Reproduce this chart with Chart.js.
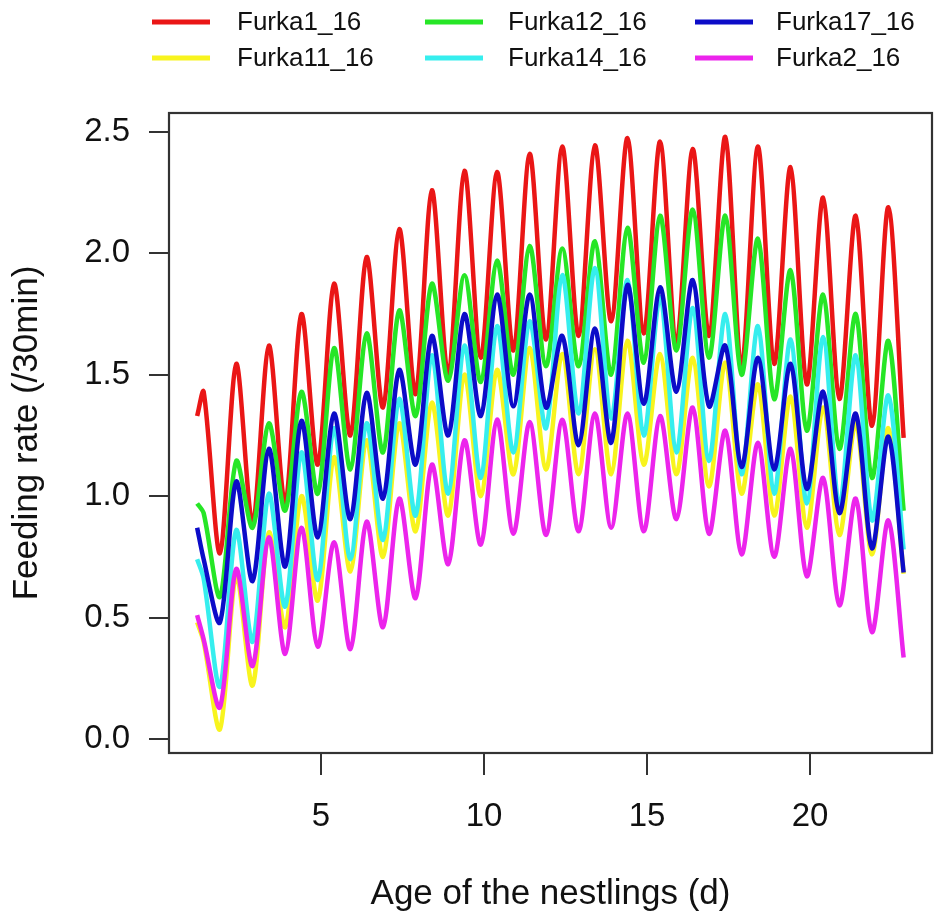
<!DOCTYPE html>
<html><head><meta charset="utf-8">
<script src="https://cdn.jsdelivr.net/npm/chart.js@4.4.1/dist/chart.umd.min.js"></script>
<style>html,body{margin:0;padding:0;background:#fff;} canvas{display:block;}</style>
</head><body>
<canvas id="c" width="946" height="917"></canvas>
<script>
// Age (d): start, then alternating daily peak / trough positions, end
const days = [1.2, 1.4, 1.9, 2.4, 2.9, 3.4, 3.9, 4.4, 4.9, 5.4, 5.9, 6.4, 6.9, 7.4, 7.9, 8.4, 8.9, 9.4, 9.9, 10.4, 10.9, 11.4, 11.9, 12.4, 12.9, 13.4, 13.9, 14.4, 14.9, 15.4, 15.9, 16.4, 16.9, 17.4, 17.9, 18.4, 18.9, 19.4, 19.9, 20.4, 20.9, 21.4, 21.9, 22.4, 22.87];

const furka1_16 = [1.33, 1.43, 0.765, 1.545, 0.89, 1.62, 0.97, 1.75, 1.13, 1.875, 1.25, 1.985, 1.365, 2.10, 1.42, 2.26, 1.50, 2.34, 1.57, 2.335, 1.60, 2.41, 1.645, 2.44, 1.66, 2.445, 1.72, 2.475, 1.67, 2.46, 1.63, 2.43, 1.66, 2.48, 1.535, 2.44, 1.545, 2.355, 1.46, 2.23, 1.40, 2.155, 1.29, 2.19, 1.24];
const furka11_16 = [0.48, 0.40, 0.04, 0.675, 0.22, 0.85, 0.46, 1.00, 0.57, 1.16, 0.69, 1.23, 0.75, 1.30, 0.855, 1.385, 0.92, 1.50, 1.0, 1.52, 1.09, 1.61, 1.11, 1.585, 1.09, 1.605, 1.09, 1.64, 1.13, 1.585, 1.09, 1.57, 1.04, 1.55, 1.01, 1.46, 0.92, 1.41, 0.87, 1.365, 0.84, 1.30, 0.76, 1.28, 0.68];
const furka12_16 = [0.97, 0.93, 0.585, 1.145, 0.87, 1.30, 0.94, 1.43, 1.01, 1.61, 1.11, 1.67, 1.18, 1.765, 1.33, 1.875, 1.475, 1.91, 1.47, 1.97, 1.50, 2.03, 1.535, 2.02, 1.535, 2.05, 1.50, 2.105, 1.55, 2.155, 1.60, 2.18, 1.57, 2.155, 1.50, 2.06, 1.40, 1.93, 1.27, 1.83, 1.195, 1.75, 1.075, 1.64, 0.94];
const furka14_16 = [0.74, 0.66, 0.215, 0.86, 0.40, 1.01, 0.545, 1.18, 0.655, 1.28, 0.74, 1.30, 0.82, 1.40, 0.92, 1.58, 1.01, 1.62, 1.075, 1.70, 1.18, 1.72, 1.28, 1.91, 1.34, 1.94, 1.32, 1.89, 1.25, 1.82, 1.18, 1.775, 1.145, 1.75, 1.09, 1.70, 1.01, 1.645, 0.97, 1.655, 0.96, 1.58, 0.90, 1.415, 0.78];
const furka17_16 = [0.87, 0.74, 0.48, 1.06, 0.65, 1.195, 0.71, 1.31, 0.83, 1.34, 0.905, 1.425, 0.99, 1.52, 1.13, 1.66, 1.25, 1.75, 1.33, 1.83, 1.37, 1.83, 1.365, 1.66, 1.21, 1.69, 1.22, 1.87, 1.38, 1.86, 1.43, 1.89, 1.37, 1.62, 1.12, 1.57, 1.11, 1.545, 1.03, 1.43, 0.93, 1.34, 0.785, 1.245, 0.685];
const furka2_16 = [0.51, 0.41, 0.13, 0.70, 0.30, 0.83, 0.35, 0.87, 0.38, 0.81, 0.37, 0.895, 0.46, 0.99, 0.58, 1.13, 0.72, 1.23, 0.80, 1.315, 0.845, 1.305, 0.84, 1.315, 0.855, 1.34, 0.87, 1.34, 0.855, 1.33, 0.905, 1.365, 0.845, 1.27, 0.76, 1.22, 0.75, 1.195, 0.67, 1.075, 0.55, 0.99, 0.44, 0.90, 0.335];

const seriesNames = ['Furka1_16', 'Furka11_16', 'Furka12_16', 'Furka14_16', 'Furka17_16', 'Furka2_16'];
const seriesValues = [furka1_16, furka11_16, furka12_16, furka14_16, furka17_16, furka2_16];
const seriesColors = ['#ea1616', '#f8f41e', '#26e626', '#36eeee', '#0c0cc8', '#ec24ec'];

const xTicks = [5, 10, 15, 20];
const yTicks = [0, 0.5, 1.0, 1.5, 2.0, 2.5];
const legendRows = [['Furka1_16', 'Furka12_16', 'Furka17_16'], ['Furka11_16', 'Furka14_16', 'Furka2_16']];

const FONT = "'Liberation Sans', Arial, Helvetica, sans-serif";

const datasets = seriesNames.map((name, i) => ({
  label: name,
  data: days.map((d, j) => ({x: d, y: seriesValues[i][j]})),
  borderColor: seriesColors[i],
  backgroundColor: seriesColors[i],
  borderWidth: 4.5,
  pointRadius: 0,
  tension: 0.3,
  fill: false,
  order: seriesNames.length - i
}));

const boxLegend = {
  id: 'boxLegend',
  afterDraw(chart) {
    const {ctx, chartArea: a} = chart;
    ctx.save();
    ctx.strokeStyle = '#333';
    ctx.lineWidth = 2.2;
    ctx.strokeRect(a.left, a.top, a.right - a.left, a.bottom - a.top);
    const lineX = [152, 425, 695];
    const textX = [237, 508, 776];
    const rowY = [22, 58];
    ctx.font = '26px ' + FONT;
    ctx.textBaseline = 'middle';
    ctx.textAlign = 'left';
    legendRows.forEach((row, r) => {
      row.forEach((name, c) => {
        const idx = seriesNames.indexOf(name);
        ctx.strokeStyle = seriesColors[idx];
        ctx.lineWidth = 5;
        ctx.lineCap = 'butt';
        ctx.beginPath();
        ctx.moveTo(lineX[c], rowY[r]);
        ctx.lineTo(lineX[c] + 58, rowY[r]);
        ctx.stroke();
        ctx.fillStyle = '#111';
        ctx.fillText(name, textX[c], rowY[r] + 1);
      });
    });
    ctx.restore();
  }
};

new Chart(document.getElementById('c'), {
  type: 'line',
  data: {datasets},
  options: {
    responsive: false,
    animation: false,
    devicePixelRatio: 1,
    layout: {padding: {left: 0, right: 14, top: 113, bottom: 0}},
    plugins: {legend: {display: false}, tooltip: {enabled: false}},
    scales: {
      x: {
        type: 'linear',
        min: 0.337, max: 23.74,
        afterBuildTicks: s => { s.ticks = xTicks.map(v => ({value: v})); },
        afterFit: s => { s.height = 164; },
        border: {display: false},
        grid: {drawOnChartArea: false, drawTicks: true, tickLength: 22, color: '#333', lineWidth: 2},
        ticks: {font: {family: FONT, size: 33}, color: '#111', padding: 22, maxRotation: 0, autoSkip: false,
                callback: v => String(v)},
        title: {display: true, text: 'Age of the nestlings (d)', color: '#111',
                font: {family: FONT, size: 35, lineHeight: 1}, padding: {top: 0, bottom: 5}}
      },
      y: {
        type: 'linear',
        min: -0.058, max: 2.578,
        afterBuildTicks: s => { s.ticks = yTicks.map(v => ({value: v})); },
        afterFit: s => { s.width = 169; },
        border: {display: false},
        grid: {drawOnChartArea: false, drawTicks: true, tickLength: 20, color: '#333', lineWidth: 2},
        ticks: {font: {family: FONT, size: 33}, color: '#111', padding: 19, autoSkip: false,
                callback: v => Number(v).toFixed(1)},
        title: {display: true, text: 'Feeding rate (/30min)', color: '#111',
                font: {family: FONT, size: 35, lineHeight: 1}, padding: {top: 10, bottom: 0}}
      }
    }
  },
  plugins: [boxLegend]
});
</script>
</body></html>
